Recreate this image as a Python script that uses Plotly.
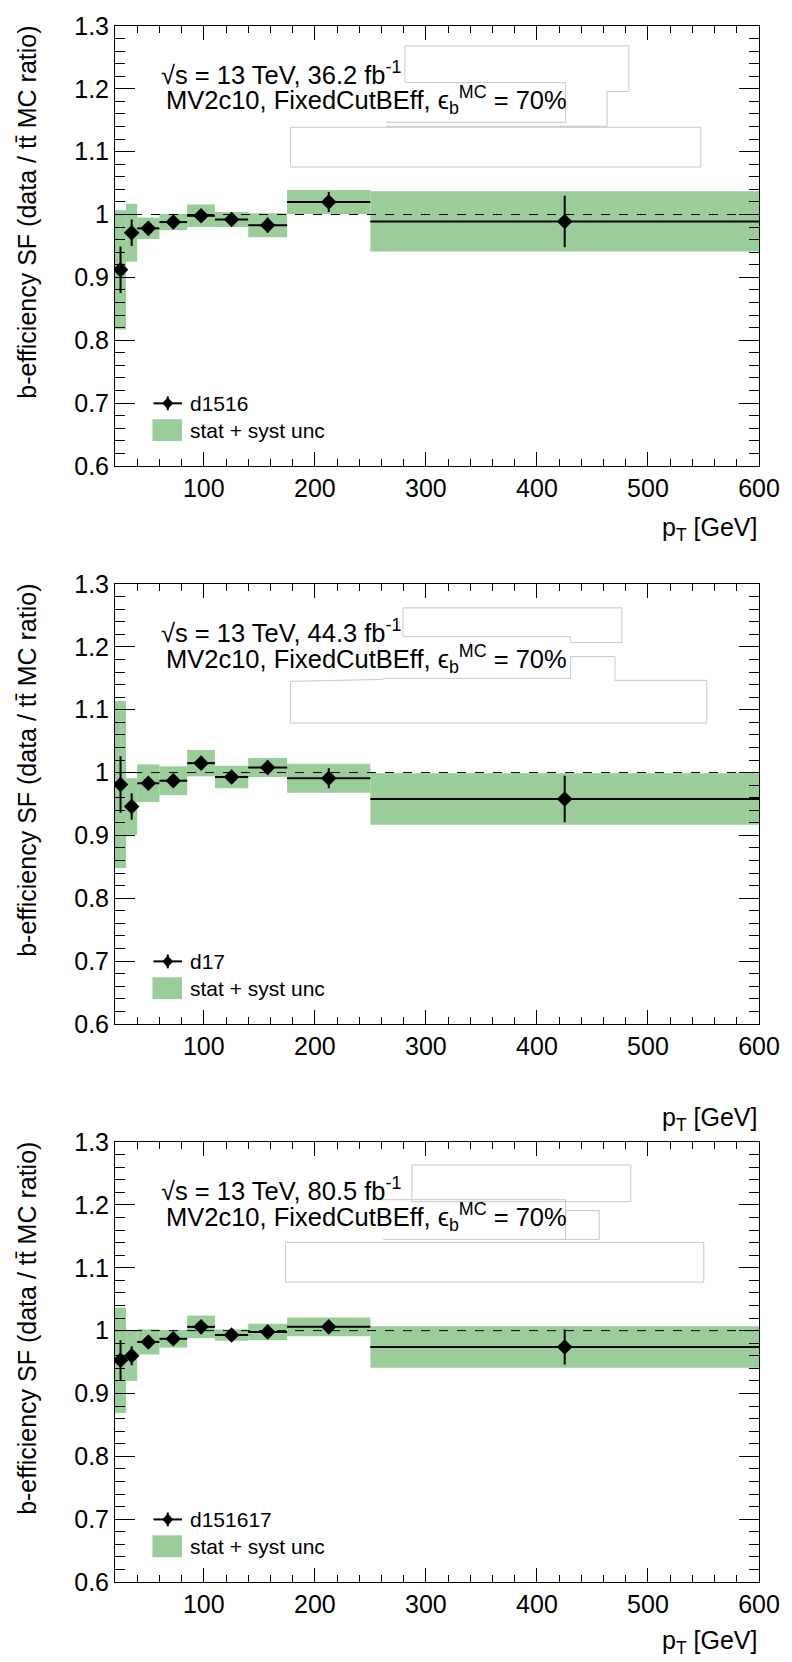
import numpy as np
import plotly.graph_objects as go

# ---------------- data ----------------
PT_EDGES = [20, 30, 40, 60, 85, 110, 140, 175, 250, 600]

LABELS = ["d1516", "d17", "d151617"]
LUMI = ["36.2", "44.3", "80.5"]

SF_D1516 = [0.912, 0.971, 0.978, 0.988, 0.998, 0.992, 0.983, 1.020, 0.989]
STAT_D1516 = [0.037, 0.021, 0.006, 0.005, 0.006, 0.006, 0.012, 0.016, 0.041]
TOT_D1516 = [0.095, 0.046, 0.017, 0.013, 0.018, 0.012, 0.019, 0.019, 0.048]

SF_D17 = [0.981, 0.946, 0.983, 0.987, 1.015, 0.993, 1.008, 0.991, 0.958]
STAT_D17 = [0.045, 0.021, 0.008, 0.006, 0.007, 0.007, 0.011, 0.016, 0.037]
TOT_D17 = [0.133, 0.045, 0.030, 0.023, 0.021, 0.018, 0.015, 0.023, 0.041]

SF_D151617 = [0.953, 0.960, 0.982, 0.987, 1.006, 0.993, 0.998, 1.006, 0.974]
STAT_D151617 = [0.032, 0.015, 0.005, 0.005, 0.005, 0.005, 0.006, 0.011, 0.028]
TOT_D151617 = [0.084, 0.040, 0.020, 0.014, 0.018, 0.009, 0.013, 0.015, 0.033]

X_RANGE = [20, 600]
Y_RANGE = [0.6, 1.3]
REF_LEVEL = 1.0

# ---------------- layout geometry ----------------
FIG_W, FIG_H = 792, 1662
L, R, T, B = 115, 24, 15, 80
PW = FIG_W - L - R
PH = FIG_H - T - B
PANEL_TOPS = [15, 577, 1139]
PANEL_H = 443
PT_TITLE_Y = [522, 1116, 1642]

GREEN = "#9acd9a"
FONT = "Liberation Sans, Arial, Helvetica, sans-serif"


def fx(px):
    return (px - L) / PW


def fy(py):
    return 1 - (py - T) / PH


edges = np.array(PT_EDGES, dtype=float)
centers = 0.5 * (edges[:-1] + edges[1:])
widths = edges[1:] - edges[:-1]

series = [
    (SF_D1516, STAT_D1516, TOT_D1516),
    (SF_D17, STAT_D17, TOT_D17),
    (SF_D151617, STAT_D151617, TOT_D151617),
]

fig = go.Figure()
annotations = []
shapes = []

for i, (sf, stat, tot) in enumerate(series):
    sfx = "" if i == 0 else str(i + 1)
    xa, ya = "x" + sfx, "y" + sfx
    sf = np.array(sf)
    stat = np.array(stat)
    tot = np.array(tot)

    fig.add_trace(go.Bar(
        x=centers, y=2 * tot, base=sf - tot, width=widths,
        marker=dict(color=GREEN, line=dict(width=0)),
        xaxis=xa, yaxis=ya, showlegend=False, hoverinfo="skip"))
    fig.add_trace(go.Scatter(
        x=X_RANGE, y=[REF_LEVEL, REF_LEVEL], mode="lines",
        line=dict(color="black", width=1, dash="dash"),
        xaxis=xa, yaxis=ya, showlegend=False, hoverinfo="skip"))
    fig.add_trace(go.Scatter(
        x=centers, y=sf, mode="markers",
        marker=dict(symbol="diamond", size=12, color="black"),
        error_x=dict(type="data", array=widths / 2, color="black", thickness=2, width=0),
        error_y=dict(type="data", array=stat, color="black", thickness=2, width=0),
        xaxis=xa, yaxis=ya, showlegend=False))

    top = PANEL_TOPS[i]
    bot = top + PANEL_H
    dom = [fy(bot), fy(top)]
    fig.layout["xaxis" + sfx] = dict(
        domain=[0, 1], anchor=ya, range=X_RANGE,
        tickmode="linear", tick0=0, dtick=100,
        ticks="inside", ticklen=14, tickwidth=1, tickcolor="black",
        minor=dict(dtick=20, tick0=0, ticks="inside", ticklen=7, tickwidth=1, tickcolor="black"),
        showline=True, linecolor="black", linewidth=1, mirror="allticks",
        showgrid=False, zeroline=False,
        tickfont=dict(size=25, color="black", family=FONT))
    fig.layout["yaxis" + sfx] = dict(
        domain=dom, anchor=xa, range=Y_RANGE,
        tickmode="linear", tick0=0.6, dtick=0.1,
        ticks="inside", ticklen=20, tickwidth=1, tickcolor="black",
        minor=dict(dtick=0.02, tick0=0.6, ticks="inside", ticklen=10, tickwidth=1, tickcolor="black"),
        showline=True, linecolor="black", linewidth=1, mirror="allticks",
        showgrid=False, zeroline=False,
        tickfont=dict(size=25, color="black", family=FONT))

    # text labels
    annotations.append(dict(
        x=fx(160), y=fy(top + 47), xref="paper", yref="paper",
        xanchor="left", yanchor="middle", showarrow=False,
        text="\u221as = 13 TeV, " + LUMI[i] + " fb<sup>-1</sup>",
        font=dict(size=25.5, color="black", family=FONT)))
    annotations.append(dict(
        x=fx(165), y=fy(top + 75), xref="paper", yref="paper",
        xanchor="left", yanchor="middle", showarrow=False,
        text="MV2c10, FixedCutBEff, \u03f5<sub>b</sub><sup>MC</sup> = 70%",
        font=dict(size=25.5, color="black", family=FONT)))
    annotations.append(dict(
        x=fx(768), y=fy(PT_TITLE_Y[i]), xref="paper", yref="paper",
        xanchor="right", yanchor="middle", showarrow=False,
        text="p<sub>T</sub> [GeV]",
        font=dict(size=25, color="black", family=FONT)))
    annotations.append(dict(
        x=fx(25), y=fy(top - 2), xref="paper", yref="paper",
        xanchor="center", yanchor="top", showarrow=False, textangle=-90,
        text="b-efficiency SF (data / tt\u0304 MC ratio)",
        font=dict(size=25, color="black", family=FONT)))
    # legend
    annotations.append(dict(
        x=fx(189), y=fy(top + 380), xref="paper", yref="paper",
        xanchor="left", yanchor="middle", showarrow=False,
        text=LABELS[i], font=dict(size=21, color="black", family=FONT)))
    annotations.append(dict(
        x=fx(189), y=fy(top + 407), xref="paper", yref="paper",
        xanchor="left", yanchor="middle", showarrow=False,
        text="stat + syst unc", font=dict(size=21, color="black", family=FONT)))
    ly = top + 380
    shapes.append(dict(type="line", xref="paper", yref="paper",
                       x0=fx(154), x1=fx(183), y0=fy(ly), y1=fy(ly),
                       line=dict(color="black", width=2)))
    shapes.append(dict(type="line", xref="paper", yref="paper",
                       x0=fx(168.5), x1=fx(168.5), y0=fy(ly - 7), y1=fy(ly + 7),
                       line=dict(color="black", width=2)))
    shapes.append(dict(type="path", xref="paper", yref="paper",
                       path="M {} {} L {} {} L {} {} L {} {} Z".format(
                           fx(168.5), fy(ly - 6), fx(174), fy(ly), fx(168.5), fy(ly + 6), fx(163), fy(ly)),
                       fillcolor="black", line=dict(color="black", width=0)))
    shapes.append(dict(type="rect", xref="paper", yref="paper",
                       x0=fx(153), x1=fx(183), y0=fy(top + 396), y1=fy(top + 418),
                       fillcolor=GREEN, line=dict(width=0)))

# faint empty frames present in the original figure
FRAMES = [
    [(409, 72), (409, 35), (636, 35), (636, 81), (614, 81), (614, 116), (390, 116)],
    [(409, 72), (572, 72), (572, 112), (390, 112)],
    [(293, 117), (709, 117), (709, 157), (293, 157), (293, 117)],
    [(407, 630), (407, 601), (629, 601), (629, 636), (577, 636), (577, 630), (407, 630)],
    [(577, 650), (622, 650), (622, 674), (715, 674), (715, 717), (293, 717), (293, 675), (387, 673)],
    [(387, 672), (577, 672), (577, 650)],
    [(416, 1162), (638, 1162), (638, 1199), (416, 1199), (416, 1162)],
    [(380, 1197), (572, 1197), (572, 1237), (387, 1237)],
    [(572, 1208), (606, 1208), (606, 1237), (572, 1237)],
    [(288, 1240), (712, 1240), (712, 1280), (288, 1280), (288, 1240)],
]
for poly in FRAMES:
    path = "M " + " L ".join("{} {}".format(fx(px), fy(py)) for px, py in poly)
    shapes.append(dict(type="path", xref="paper", yref="paper", path=path,
                       line=dict(color="#c8c8c8", width=1)))

fig.update_layout(
    width=FIG_W, height=FIG_H,
    margin=dict(l=L, r=R, t=T, b=B, pad=0),
    paper_bgcolor="white", plot_bgcolor="white",
    font=dict(family=FONT, color="black"),
    annotations=annotations, shapes=shapes,
    barmode="overlay", showlegend=False,
)

fig.write_html(
    "out.html",
    config={"displayModeBar": False},
    post_script="document.body.style.margin='0';document.body.style.overflow='hidden';",
)
